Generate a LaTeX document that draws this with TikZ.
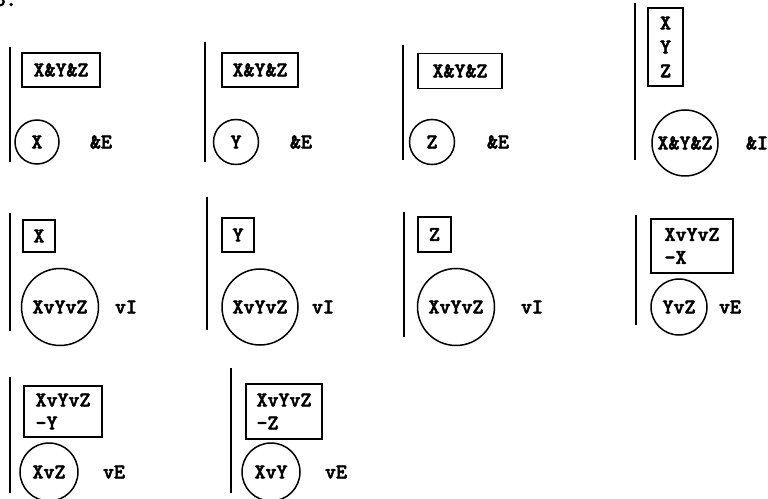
\documentclass[tikz,border=0pt]{standalone}
\usepackage{fontspec}
\newfontfamily\tyfam{lmmonolt10-bold}[Extension=.otf, FakeBold=2.5]
\newcommand{\tyfont}{\fontsize{21}{23}\selectfont\tyfam}

\begin{document}
\begin{tikzpicture}[x=1bp,y=-1bp,
  rule/.style={line width=2.8bp},
  prem/.style={draw, line width=1.6bp, font=\tyfont, align=left, inner sep=0pt},
  concl/.style={draw, circle, line width=1.5bp, font=\tyfont, inner sep=0pt},
  just/.style={font=\tyfont}]
\useasboundingbox (0,0) rectangle (768,499);

% Row positions (centres of the conclusions)
\def\rowa{142}
\def\rowb{307}
\def\rowc{472}

% Exercise number (cut off at the top)
\node[anchor=base west, font=\tyfont, inner sep=0pt] (num) at (-5.5,6) {5.};

% Row 1: &E, &E, &E, &I
\coordinate (t11) at (10,47);  \coordinate (b11) at (10,162);
\coordinate (t12) at (205,42); \coordinate (b12) at (205,162);
\coordinate (t13) at (403,45); \coordinate (b13) at (403,160);
\coordinate (t14) at (635,3);  \coordinate (b14) at (635,160);
\draw[rule] (t11) -- (b11);
\draw[rule] (t12) -- (b12);
\draw[rule] (t13) -- (b13);
\draw[rule] (t14) -- (b14);

\node[prem, minimum width=78bp, minimum height=34bp] (p11) at (61,70) {X\&Y\&Z};
\node[prem, minimum width=76bp, minimum height=34bp] (p12) at (260,70) {X\&Y\&Z};
\node[prem, minimum width=84bp, minimum height=35bp] (p13) at (460,71) {X\&Y\&Z};
\node[prem, minimum width=35bp, minimum height=78bp, font=\fontsize{21}{24}\selectfont\tyfam] (p14) at (665.5,47) {X\\Y\\Z};

\node[concl, minimum size=44bp] (c11) at (37,\rowa) {X};
\node[concl, minimum size=45bp] (c12) at (236,\rowa) {Y};
\node[concl, minimum size=45bp] (c13) at (432,\rowa) {Z};
\node[concl, minimum size=66bp] (c14) at (685,\rowa+1) {X\&Y\&Z};

\node[just] (j11) at (101,\rowa) {\&E};
\node[just] (j12) at (301,\rowa) {\&E};
\node[just] (j13) at (498,\rowa) {\&E};
\node[just] (j14) at (757,\rowa+1) {\&I};

% Row 2: vI, vI, vI, vE
\coordinate (t21) at (10,213);  \coordinate (b21) at (10,331);
\coordinate (t22) at (207,197); \coordinate (b22) at (207,330);
\coordinate (t23) at (404,212); \coordinate (b23) at (404,337);
\coordinate (t24) at (636,215); \coordinate (b24) at (636,325);
\draw[rule] (t21) -- (b21);
\draw[rule] (t22) -- (b22);
\draw[rule] (t23) -- (b23);
\draw[rule] (t24) -- (b24);

\node[prem, minimum width=32bp, minimum height=32bp] (p21) at (39,236) {X};
\node[prem, minimum width=32bp, minimum height=34bp] (p22) at (238,235) {Y};
\node[prem, minimum width=33bp, minimum height=35bp] (p23) at (434.5,234.5) {Z};
\node[prem, minimum width=82bp, minimum height=54bp] (p24) at (692,246) {XvYvZ\\-X};

\node[concl, minimum size=77bp] (c21) at (60,\rowb) {XvYvZ};
\node[concl, minimum size=76bp] (c22) at (260,\rowb) {XvYvZ};
\node[concl, minimum size=77bp] (c23) at (456,\rowb) {XvYvZ};
\node[concl, minimum size=56bp] (c24) at (679,\rowb) {YvZ};

\node[just] (j21) at (126,\rowb) {vI};
\node[just] (j22) at (323,\rowb) {vI};
\node[just] (j23) at (532,\rowb) {vI};
\node[just] (j24) at (730,\rowb) {vE};

% Row 3: vE, vE
\coordinate (t31) at (10,377);  \coordinate (b31) at (10,493);
\coordinate (t32) at (231,368); \coordinate (b32) at (231,493);
\draw[rule] (t31) -- (b31);
\draw[rule] (t32) -- (b32);

\node[prem, minimum width=78bp, minimum height=51bp] (p31) at (63,411.5) {XvYvZ\\-Y};
\node[prem, minimum width=76bp, minimum height=55bp] (p32) at (284,411.5) {XvYvZ\\-Z};

\node[concl, minimum size=58bp] (c31) at (49,\rowc) {XvZ};
\node[concl, minimum size=58bp] (c32) at (271,\rowc) {XvY};

\node[just] (j31) at (114,\rowc) {vE};
\node[just] (j32) at (336,\rowc) {vE};
\end{tikzpicture}
\end{document}
